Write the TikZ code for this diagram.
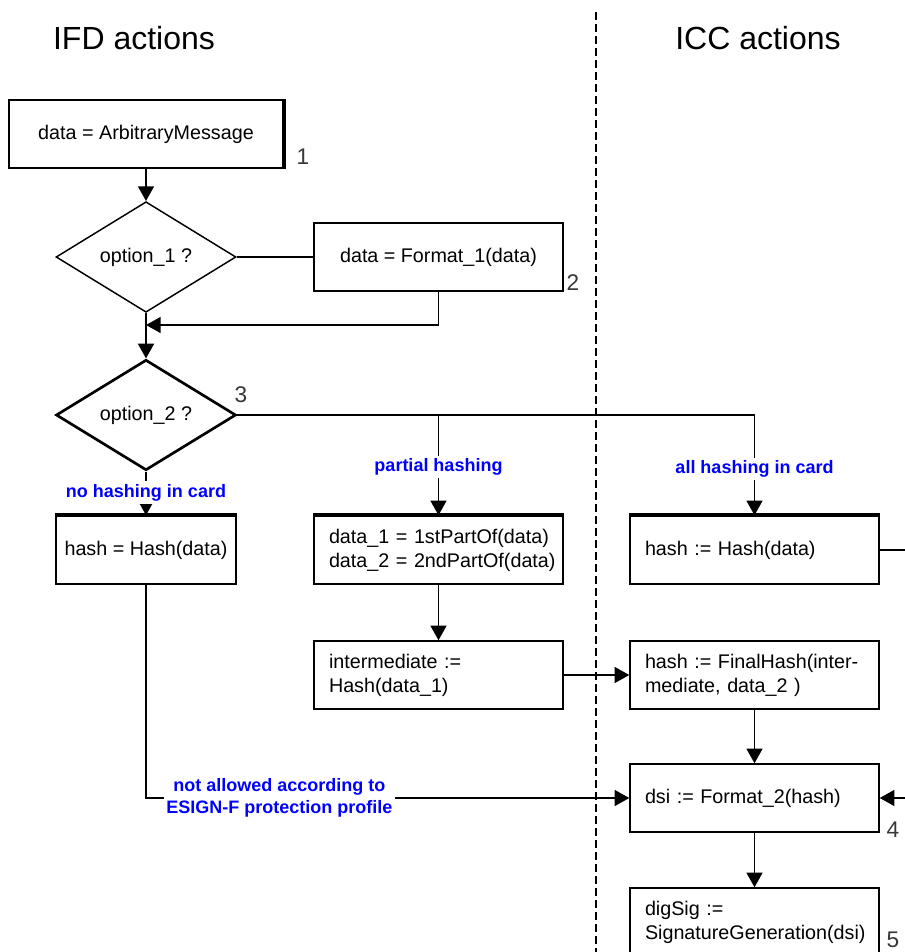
\documentclass[tikz,border=0pt]{standalone}
\usepackage{fontspec}
\setmainfont{Liberation Sans}
\usetikzlibrary{arrows.meta,shapes.geometric}

\definecolor{lblue}{RGB}{0,0,255}
\definecolor{numgray}{RGB}{55,55,55}

\tikzset{every picture/.style={line width=1.1pt}}
\tikzset{
  ifdbox/.style={draw, rectangle, minimum height=51pt, inner sep=0pt, font=\fontsize{14.8}{18}\selectfont},
  iccbox/.style={draw, rectangle, minimum height=51pt, text width=164.25pt, inner xsep=11.25pt, inner ysep=0pt, align=left, font=\fontsize{14.8}{18}\selectfont},
  decision/.style={draw, diamond, minimum width=135pt, minimum height=66pt, inner sep=0pt, font=\fontsize{14.8}{18}\selectfont},
  branchlbl/.style={fill=white, text=lblue, inner sep=2pt, align=center, font=\fontsize{13.5}{17}\selectfont\bfseries},
  steplbl/.style={text=numgray, inner sep=0pt, font=\fontsize{17}{20}\selectfont},
  title/.style={inner sep=0pt, font=\fontsize{24}{28}\selectfont},
  flow/.style={-{Triangle[width=12pt,length=11pt]}},
  heavyedge/.style={line width=3pt},
}

\begin{document}
\begin{tikzpicture}[x=0.75pt,y=0.75pt,yscale=-1,xscale=1]
\useasboundingbox (0,0) rectangle (905,952);
\clip (0,0) rectangle (905,952);

% Text Node
\node[title] (ifdtitle) at (134,38) {IFD actions};
% Text Node
\node[title] (icctitle) at (758,38) {ICC actions};

%Straight Lines: lane border
\draw[dash pattern=on 6pt off 3pt, line width=1pt] (596,12) -- (596,952);

%Shape: Rectangle
\node[ifdbox, minimum width=205.5pt] (msg) at (146,134) {data = ArbitraryMessage};
\draw[heavyedge] (msg.north east) -- (msg.south east);
%Shape: Diamond
\node[decision] (opt1) at (146,257) {option\_1 ?};
%Shape: Rectangle
\node[ifdbox, minimum width=186.75pt] (fmt1) at (438.5,257) {data = Format\_1(data)};
\coordinate (join) at (146,325);
%Shape: Diamond
\node[decision, line width=2pt] (opt2) at (146,415) {option\_2 ?};

%Shape: Rectangle
\node[ifdbox, minimum width=135pt] (hashI) at (146,550) {hash = Hash(data)};
\draw[heavyedge] (hashI.north west) -- (hashI.north east);
%Shape: Rectangle
\node[iccbox] (split) at (438.5,550) {\mbox{data\_1 = 1stPartOf(data)}\\\mbox{data\_2 = 2ndPartOf(data)}};
\draw[heavyedge] (split.north west) -- (split.north east);
%Shape: Rectangle
\node[iccbox] (hashC) at (754.5,550) {hash := Hash(data)};
\draw[heavyedge] (hashC.north west) -- (hashC.north east);

%Shape: Rectangle
\node[iccbox] (inter) at (438.5,675) {intermediate :=\\Hash(data\_1)};
%Shape: Rectangle
\node[iccbox] (fin) at (754.5,675) {hash := FinalHash(inter-\\mediate, data\_2 )};
%Shape: Rectangle
\node[iccbox] (dsi) at (754.5,798) {dsi := Format\_2(hash)};
%Shape: Rectangle
\node[iccbox] (sig) at (754.5,922) {digSig :=\\\mbox{SignatureGeneration(dsi)}};
\coordinate (offR) at (935,675);

% Text Node
\node[steplbl] (n1) at (303,157) {1};
\node[steplbl] (n2) at (573,283) {2};
\node[steplbl] (n3) at (241,395) {3};
\node[steplbl] (n4) at (893,830) {4};
\node[steplbl] (n5) at (893,940) {5};

% Connection
\draw[flow] (msg.south) -- (opt1.north);
\draw (opt1.east) -- (fmt1.west);
\draw[flow] (fmt1.south) |- (join);
\draw[flow] (opt1.south) -- (opt2.north);
\draw[flow] (opt2.south) -- (hashI.north) node[branchlbl, pos=0.48] {no hashing in card};
\draw[flow] (opt2.east) -| (hashC.north) node[branchlbl, pos=0.77] {all hashing in card};
\draw[flow] (opt2.east -| split.north) -- (split.north) node[branchlbl, pos=0.52] {partial hashing};
\draw[flow] (split.south) -- (inter.north);
\draw[flow] (inter.east) -- (fin.west);
\draw[flow] (fin.south) -- (dsi.north);
\draw[flow] (dsi.south) -- (sig.north);
\draw[flow] (hashC.east) -- (hashC.east -| offR) |- (dsi.east);
\draw[flow] (hashI.south) |- (dsi.west) node[branchlbl, pos=0.638] {not allowed according to\\ESIGN-F protection profile};

\end{tikzpicture}
\end{document}
